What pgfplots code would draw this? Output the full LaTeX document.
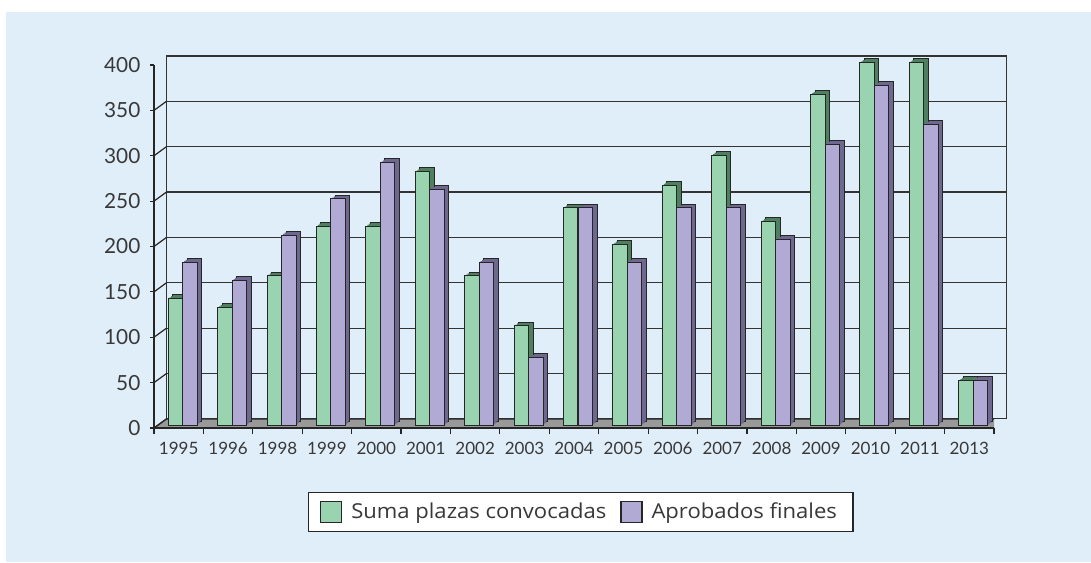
\documentclass[border=0pt]{standalone}
\usepackage{pgfplots}
\pgfplotsset{compat=1.18}
\usepackage{pgfplotstable}
\usepackage{fontspec}
\setmainfont{Lato}
\newfontfamily\legfont[FakeStretch=1.07]{Open Sans}
\definecolor{bgblue}{HTML}{E0EEF9}
\definecolor{gfront}{HTML}{99D3AF}
\definecolor{gside}{HTML}{4E7F5F}
\definecolor{pfront}{HTML}{B0AAD5}
\definecolor{pside}{HTML}{6E6891}
\definecolor{floorgray}{HTML}{999999}
\definecolor{txt}{HTML}{383838}
\pgfplotstableread{
x year sum apr
0 1995 140 180
1 1996 130 160
2 1998 165 210
3 1999 220 250
4 2000 220 290
5 2001 280 260
6 2002 165 180
7 2003 110 75
8 2004 240 240
9 2005 200 180
10 2006 265 240
11 2007 298 240
12 2008 225 205
13 2009 365 310
14 2010 400 375
15 2011 400 332
16 2013 50 50
}\datatable
\pgfplotsset{
  base/.style={anchor=south west, scale only axis, width=420pt, height=181.5pt,
    xmin=-0.5, xmax=16.5, ymin=0, ymax=400},
}
\begin{document}
\begin{tikzpicture}
\fill[white] (0,0) rectangle (545.5pt,281pt);
\fill[bgblue] (3pt,0) rectangle (545.5pt,275pt);
% back wall
\begin{axis}[base, at={(83.25pt,71.55pt)},
  xtick=\empty, ytick={50,100,...,400}, yticklabels={},
  ymajorgrids, major tick length=0pt,
  grid style={black!80, line width=0.6pt},
  axis line style={black!80, line width=0.6pt}]
\end{axis}
% front axis with floor
\begin{axis}[base, at={(77pt,67pt)}, axis on top,
  axis x line*=bottom, axis y line*=left,
  axis line style={black!85, line width=0.6pt},
  xtick={0,...,16},
  xticklabels={1995,1996,1998,1999,2000,2001,2002,2003,2004,2005,2006,2007,2008,2009,2010,2011,2013},
  minor xtick={-0.5,0.5,...,16.5},
  ytick={0,50,...,400},
  /pgf/number format/assume math mode=true,
  tick align=outside,
  major x tick style={draw=none},
  major tick length=1.8pt, minor tick length=3pt,
  every tick/.style={black!85, line width=0.6pt},
  yticklabel style={font=\fontsize{10.4}{12}\selectfont, text=txt, xshift=-1.5pt},
  xticklabel style={font=\fontsize{8.5}{10}\selectfont, text=txt, yshift=-2pt},
  ]
\fill[floorgray, draw=black!85, line width=0.6pt] (axis cs:-0.5,0) -- (axis cs:16.5,0) -- ++(6.25pt,4.55pt) -- ++(-420pt,0pt) -- cycle;
\pgfplotsinvokeforeach{0,50,...,400}{\draw[black!85, line width=0.6pt] (axis cs:-0.5,#1) -- ++(6.25pt,4.55pt);}
\end{axis}
% bars
\begin{axis}[base, at={(78.75pt,68.15pt)}, hide axis, clip=false, ybar, bar width=0.2935,
  legend style={at={(0.5036,-0.2377)}, anchor=center, legend columns=2,
    draw=black!85, fill=white, line width=0.6pt,
    font=\legfont\fontsize{10.3}{12}\selectfont, text=txt,
    inner xsep=6pt, inner ysep=3pt,
    /tikz/every odd column/.append style={column sep=2.5pt},
    /tikz/every even column/.append style={column sep=5pt}},
  ]
\addplot[fill=gside, draw=black!85, line width=0.5pt, bar shift=-0.137, xshift=2.25pt, yshift=1.9pt, forget plot] table[x=x, y=sum] {\datatable};
\addplot[fill=gside, draw=none, bar shift=-0.137, xshift=1.5pt, yshift=1.27pt, forget plot] table[x=x, y=sum] {\datatable};
\addplot[fill=gside, draw=none, bar shift=-0.137, xshift=0.75pt, yshift=0.63pt, forget plot] table[x=x, y=sum] {\datatable};
\addplot[fill=gfront, draw=black!85, line width=0.5pt, bar shift=-0.137,
  legend image code/.code={\draw[fill=gfront, draw=black!85, line width=0.6pt] (0pt,-5.25pt) rectangle (10.5pt,5.25pt);}] table[x=x, y=sum] {\datatable};
\addlegendentry{Suma plazas convocadas}
\addplot[fill=pside, draw=black!85, line width=0.5pt, bar shift=0.157, xshift=2.25pt, yshift=1.9pt, forget plot] table[x=x, y=apr] {\datatable};
\addplot[fill=pside, draw=none, bar shift=0.157, xshift=1.5pt, yshift=1.27pt, forget plot] table[x=x, y=apr] {\datatable};
\addplot[fill=pside, draw=none, bar shift=0.157, xshift=0.75pt, yshift=0.63pt, forget plot] table[x=x, y=apr] {\datatable};
\addplot[fill=pfront, draw=black!85, line width=0.5pt, bar shift=0.157,
  legend image code/.code={\draw[fill=pfront, draw=black!85, line width=0.6pt] (0pt,-5.25pt) rectangle (10.5pt,5.25pt);}] table[x=x, y=apr] {\datatable};
\addlegendentry{Aprobados finales}
\end{axis}
\pgfresetboundingbox
\useasboundingbox (0,0) rectangle (545.5pt,281pt);
\end{tikzpicture}
\end{document}
